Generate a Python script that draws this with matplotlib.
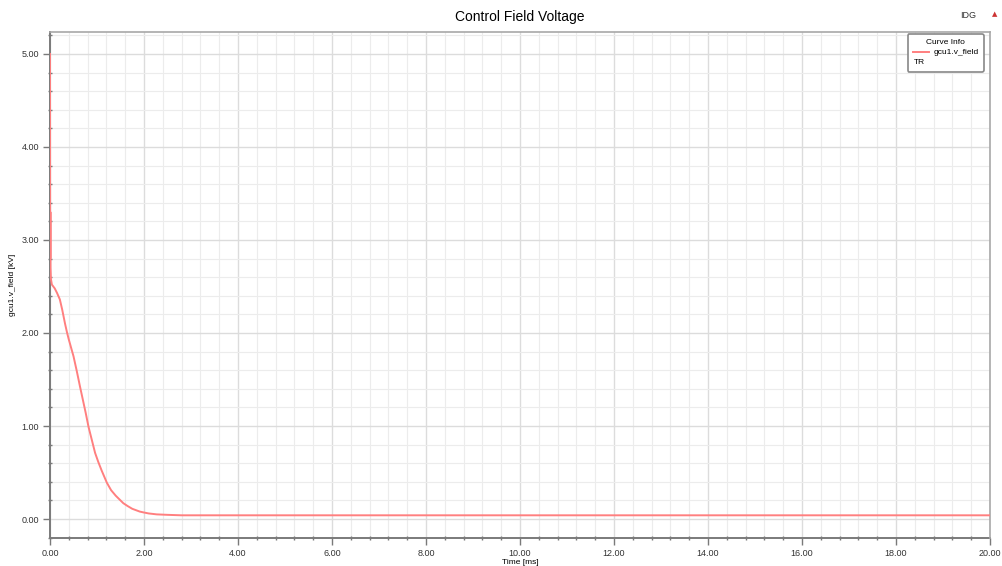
import matplotlib
matplotlib.use("Agg")
import matplotlib.pyplot as plt
from matplotlib.lines import Line2D
from matplotlib.ticker import MultipleLocator, FormatStrFormatter

# values
time_ms = [0.0, 0.004, 0.008, 0.012, 0.02, 0.04, 0.1, 0.15, 0.21, 0.26,
           0.32, 0.36, 0.4, 0.45, 0.5, 0.57, 0.64, 0.7, 0.76, 0.82, 0.89,
           0.96, 1.03, 1.1, 1.21, 1.3, 1.4, 1.48, 1.56, 1.65, 1.75, 1.91,
           2.0, 2.1, 2.27, 2.5, 2.8, 3.2, 4.0, 20.0]
v_field = [5.0, 2.8, 3.3, 2.7, 2.58, 2.52, 2.48, 2.43, 2.36, 2.25,
           2.1, 2.01, 1.93, 1.84, 1.75, 1.59, 1.42, 1.28, 1.14, 0.99, 0.85,
           0.71, 0.61, 0.52, 0.39, 0.31, 0.25, 0.21, 0.17, 0.14, 0.11, 0.08,
           0.07, 0.06, 0.05, 0.045, 0.04, 0.04, 0.04, 0.04]

title = "Control Field Voltage"
x_label = "Time [ms]"
y_label = "gcu1.v_field [kV]"
curve_name = "gcu1.v_field"

plt.rcParams["font.family"] = ["Liberation Sans", "DejaVu Sans"]

fig = plt.figure(figsize=(10.03, 5.66), dpi=100)
ax = fig.add_axes([50 / 1003, 1 - 538 / 566, 940 / 1003, 506 / 566])

line, = ax.plot(time_ms, v_field, color="#ff7f7f", lw=1.4, zorder=3)

ax.set_xlim(0, 20)
ax.set_ylim(-0.204, 5.236)
ax.xaxis.set_major_locator(MultipleLocator(2))
ax.xaxis.set_minor_locator(MultipleLocator(0.4))
ax.yaxis.set_major_locator(MultipleLocator(1))
ax.yaxis.set_minor_locator(MultipleLocator(0.2))
ax.xaxis.set_major_formatter(FormatStrFormatter("%.2f"))
ax.yaxis.set_major_formatter(FormatStrFormatter("%.2f"))

ax.grid(which="major", color="#dcdcdc", lw=1.0)
ax.grid(which="minor", color="#ececec", lw=0.8)
ax.set_axisbelow(True)

for side in ["top", "right"]:
    ax.spines[side].set_color("#a8a8a8")
    ax.spines[side].set_linewidth(1.2)
for side in ["left", "bottom"]:
    ax.spines[side].set_color("#7a7a7a")
    ax.spines[side].set_linewidth(1.4)
    ax.spines[side].set_zorder(2)

ax.tick_params(which="major", length=5, width=1, color="#7a7a7a",
               labelsize=6.5, labelcolor="#333333", pad=3)
ax.tick_params(which="minor", length=3, width=1, color="#7a7a7a",
               direction="inout")

ax.set_title(title, fontsize=10, pad=8)
ax.set_xlabel(x_label, fontsize=6, labelpad=1)
ax.set_ylabel(y_label, fontsize=6, labelpad=4)

blank = Line2D([], [], color="none")
leg = ax.legend([line, blank], [curve_name, " "], title="Curve Info",
                loc="upper right", bbox_to_anchor=(988 / 1003, 1 - 30 / 566),
                bbox_transform=fig.transFigure, fontsize=6,
                title_fontsize=6, handlelength=2.0, handletextpad=0.5,
                borderpad=0.6, labelspacing=0.3, fancybox=True,
                framealpha=1, edgecolor="#888888")
leg.get_frame().set_linewidth(1.2)
leg.set_zorder(5)
fig.text(914 / 1003, 1 - 63 / 566, "TR", fontsize=6, va="center", zorder=6)

fig.text(968 / 1003, 1 - 15 / 566, "IDG", fontsize=6.5, ha="center",
         va="center", color="#333333")
fig.text(995 / 1003, 1 - 14 / 566, "\u25B2", fontsize=5, ha="center",
         va="center", color="#cc3333", family="DejaVu Sans")

fig.savefig("out.png", dpi=100)
